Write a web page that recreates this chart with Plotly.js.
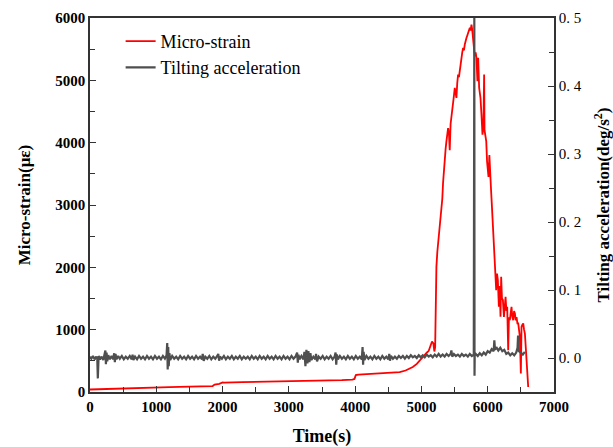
<!DOCTYPE html>
<html>
<head>
<meta charset="utf-8">
<script src="https://cdn.plot.ly/plotly-3.0.1.min.js"></script>
<style>html,body{margin:0;padding:0;background:#fff;}#chart{width:613px;height:447px;}#dbg{position:absolute;left:0;top:0;font:10px monospace;color:#fff}</style>
</head>
<body>
<div id="chart"></div>
<div id="dbg"></div>
<script>
// Micro-strain series (left axis)
const strainTime = [
0,300,600,900,1200,1500,1850,1880,1950,2000,
2020,2300,2600,2900,3200,3500,3800,3960,3990,4010,
4050,4300,4500,4672,4760,4823,4870,4930,4970,5000,
5040,5080,5110,5140,5160,5180,5195,5207,5212,5226,
5240,5255,5276,5290,5302,5315,5326,5340,5352,5365,
5377,5390,5402,5415,5427,5440,5453,5465,5478,5490,
5503,5515,5528,5540,5553,5566,5580,5592,5604,5616,
5629,5641,5654,5667,5680,5692,5705,5718,5730,5742,
5755,5765,5780,5795,5805,5818,5830,5845,5856,5871,
5883,5891,5906,5921,5935,5946,5952,5965,5978,5990,
6000,6012,6025,6038,6050,6060,6072,6082,6097,6103,
6115,6128,6140,6153,6168,6180,6193,6203,6215,6229,
6245,6258,6269,6282,6294,6309,6320,6334,6347,6359,
6372,6385,6398,6410,6423,6435,6448,6460,6472,6485,
6500,6510,6523,6536,6548,6561,6575,6586,6598,6611
];
const strainValue = [
40,52,62,70,78,85,95,118,132,155,
150,160,165,170,175,182,190,200,210,272,
280,295,305,320,345,375,400,450,500,545,
590,630,660,760,810,780,650,720,1475,2010,
2250,2400,2707,2800,2920,3100,3350,3600,3752,3900,
4020,4150,4235,4150,3880,4300,4448,4550,4610,4750,
4878,4800,4717,4950,5092,5050,5180,5250,5305,5450,
5520,5480,5574,5650,5682,5720,5762,5790,5843,5800,
5895,5820,5627,5520,5386,5450,5360,4984,5360,4878,
4800,4717,4448,4127,4250,5092,4200,4100,4020,3700,
3600,3450,3800,3300,3250,3050,2800,2600,2331,2010,
1850,1635,1900,1796,1367,1700,1206,1849,1500,1474,
1206,1450,1527,1300,1367,670,1200,1153,1300,1367,
1200,1153,1300,1260,1150,1200,1100,1100,1000,884,
296,1045,1080,1100,1000,938,700,510,300,80
];

// Tilting acceleration series (right axis)
const accelTime = [
0,20,45,70,95,110,118,130,150,175,
200,222,232,240,250,260,275,300,325,350,
365,375,385,400,425,450,480,510,540,570,
600,630,642,655,680,710,740,770,800,830,
860,890,920,950,980,1010,1040,1070,1100,1130,
1155,1165,1172,1180,1188,1198,1210,1240,1270,1300,
1330,1360,1390,1420,1450,1480,1510,1540,1570,1600,
1630,1660,1690,1700,1715,1740,1770,1800,1830,1860,
1890,1920,1935,1948,1960,1990,2020,2050,2080,2110,
2140,2170,2200,2230,2260,2290,2320,2350,2380,2410,
2440,2470,2500,2530,2560,2590,2620,2650,2680,2710,
2740,2770,2800,2830,2860,2890,2920,2950,2980,3010,
3040,3070,3100,3125,3135,3145,3160,3190,3220,3235,
3250,3265,3280,3295,3310,3325,3340,3370,3400,3410,
3425,3450,3480,3510,3540,3570,3600,3630,3660,3690,
3705,3715,3725,3740,3770,3800,3830,3860,3890,3920,
3950,3980,4010,4040,4070,4100,4112,4120,4128,4140,
4170,4200,4230,4260,4290,4320,4350,4380,4410,4440,
4470,4500,4515,4525,4540,4570,4600,4630,4660,4690,
4720,4750,4780,4810,4840,4870,4900,4930,4960,4990,
5020,5050,5080,5110,5140,5170,5200,5230,5260,5290,
5320,5350,5380,5410,5440,5452,5465,5490,5520,5550,
5580,5610,5640,5670,5700,5730,5760,5790,5798,5801,
5804,5820,5850,5880,5910,5940,5970,6000,6030,6060,
6090,6100,6110,6130,6160,6190,6220,6250,6280,6310,
6340,6370,6400,6430,6450,6458,6470,6500,6530,6560
];
const accelValue = [
0.002,-0.001,0.003,-0.002,0.002,-0.001,-0.030,0.003,-0.002,0.002,
-0.003,0.006,0.011,-0.009,0.008,-0.005,0.004,-0.002,0.003,-0.002,
0.007,-0.006,0.006,-0.002,0.003,-0.001,0.003,-0.002,0.002,-0.001,
0.003,-0.002,0.005,-0.003,0.002,-0.002,0.003,-0.001,0.002,-0.002,
0.003,-0.001,0.002,-0.002,0.003,-0.001,0.002,-0.002,0.003,-0.001,
0.004,0.022,-0.017,0.016,-0.012,0.007,-0.003,0.003,-0.001,0.002,
-0.002,0.003,-0.001,0.002,-0.002,0.003,-0.001,0.002,-0.002,0.003,
-0.001,0.002,-0.002,0.006,-0.004,0.002,-0.001,0.003,-0.002,0.002,
-0.001,0.003,0.006,-0.004,0.002,-0.001,0.003,-0.002,0.002,-0.001,
0.003,-0.002,0.002,-0.001,0.003,-0.002,0.002,-0.001,0.002,-0.002,
0.003,-0.001,0.002,-0.002,0.003,-0.001,0.002,-0.002,0.003,-0.001,
0.002,-0.002,0.003,-0.001,0.002,-0.002,0.003,-0.001,0.002,-0.002,
0.003,-0.001,0.002,0.008,-0.007,0.005,-0.002,0.003,-0.002,0.009,
-0.012,0.012,-0.008,0.010,-0.006,0.007,-0.003,0.002,-0.002,0.006,
-0.005,0.002,-0.001,0.003,-0.002,0.002,-0.001,0.003,-0.002,0.002,
0.008,-0.010,0.005,-0.002,0.003,-0.001,0.002,-0.002,0.003,-0.001,
0.002,-0.002,0.003,-0.001,0.002,-0.002,0.016,-0.010,0.009,-0.003,
0.003,-0.001,0.002,-0.002,0.003,-0.001,0.002,-0.002,0.003,-0.001,
0.002,-0.002,0.006,-0.004,0.003,-0.001,0.002,-0.001,0.003,0.000,
0.003,-0.001,0.003,0.000,0.004,0.001,0.003,0.000,0.004,0.001,
0.004,0.001,0.005,0.002,0.004,0.001,0.005,0.002,0.006,0.002,
0.005,0.002,0.006,0.003,0.006,0.011,0.002,0.006,0.003,0.005,
0.002,0.006,0.003,0.005,0.002,0.006,0.003,0.005,0.500,-0.026,
0.004,0.006,0.003,0.007,0.004,0.008,0.005,0.010,0.008,0.013,
0.010,0.026,0.012,0.016,0.011,0.015,0.010,0.012,0.006,0.008,
0.004,0.007,0.004,0.008,0.015,0.033,0.010,0.008,0.005,0.009
];

// Axis ticks
const xTicks = [0,1000,2000,3000,4000,5000,6000,7000];
const yLeftTicks = [0,1000,2000,3000,4000,5000,6000];
const yRightTicks = [0,0.1,0.2,0.3,0.4,0.5];
const yRightTickText = ['0. 0','0. 1','0. 2','0. 3','0. 4','0. 5'];

const serif = 'Liberation Serif';
const axisLine = '#333333';

const traces = [
  {x: strainTime, y: strainValue, type: 'scatter', mode: 'lines', name: 'Micro-strain',
   line: {color: '#ff0000', width: 1.8}, yaxis: 'y'},
  {x: accelTime, y: accelValue, type: 'scatter', mode: 'lines', name: 'Tilting acceleration',
   line: {color: '#4f4f4f', width: 2.2}, yaxis: 'y2'}
];

const layout = {
  width: 613, height: 447,
  margin: {l: 90, r: 59, t: 18, b: 55},
  font: {family: serif, size: 15, color: '#000000'},
  paper_bgcolor: '#ffffff', plot_bgcolor: '#ffffff',
  showlegend: true,
  legend: {x: 0.066, y: 0.987, xanchor: 'left', yanchor: 'top', bgcolor: 'rgba(0,0,0,0)',
           font: {family: serif, size: 18, color: '#000000'}},
  xaxis: {
    range: [0, 7000], tickmode: 'array', tickvals: xTicks,
    ticks: 'inside', ticklen: 6, tickwidth: 1.3, tickcolor: axisLine,
    minor: {dtick: 500, ticks: 'inside', ticklen: 5, tickwidth: 1.3, tickcolor: axisLine},
    showline: true, linecolor: axisLine, linewidth: 1.5, mirror: true,
    showgrid: false, zeroline: false,
    tickfont: {family: serif, size: 15, color: '#000000', weight: 700},
    title: {text: 'Time(s)', font: {family: serif, size: 18, color: '#000000', weight: 700}, standoff: 16}
  },
  yaxis: {
    range: [0, 6000], tickmode: 'array', tickvals: yLeftTicks,
    ticks: 'inside', ticklen: 6, tickwidth: 1.3, tickcolor: axisLine,
    minor: {dtick: 500, ticks: 'inside', ticklen: 5, tickwidth: 1.3, tickcolor: axisLine},
    showline: true, linecolor: axisLine, linewidth: 1.5,
    showgrid: false, zeroline: false,
    tickfont: {family: serif, size: 15, color: '#000000', weight: 700},
    title: {text: 'Micro-strain(με)', font: {family: serif, size: 17, color: '#000000', weight: 700}, standoff: 20}
  },
  yaxis2: {
    overlaying: 'y', side: 'right', anchor: 'x',
    range: [-0.05, 0.5], tickmode: 'array', tickvals: yRightTicks, ticktext: yRightTickText,
    ticks: 'inside', ticklen: 6, tickwidth: 1.3, tickcolor: axisLine,
    minor: {tickmode: 'linear', tick0: 0, dtick: 0.05, ticks: 'inside', ticklen: 5, tickwidth: 1.3, tickcolor: axisLine},
    showline: true, linecolor: axisLine, linewidth: 1.5,
    showgrid: false, zeroline: false,
    tickfont: {family: serif, size: 15, color: '#000000'},
    title: {text: 'Tilting acceleration(deg/s<sup>2</sup>)', font: {family: serif, size: 17, color: '#000000', weight: 700}, standoff: 17}
  }
};

Plotly.newPlot('chart', traces, layout, {displayModeBar: false}).then(function () {
  document.getElementById('dbg').textContent = '\u00a0';
}).catch(function (err) { document.getElementById('dbg').textContent = 'ERR ' + err; });
</script>
</body>
</html>
